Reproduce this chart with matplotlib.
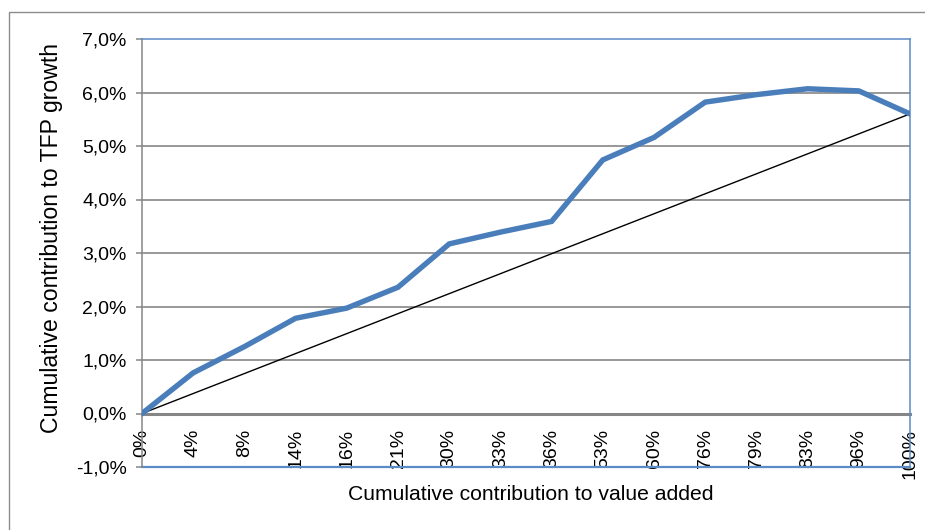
import matplotlib
matplotlib.use("Agg")
import matplotlib.pyplot as plt
from matplotlib.patches import Rectangle

# data
categories = ["0%", "4%", "8%", "14%", "16%", "21%", "30%", "33%", "36%",
              "53%", "60%", "76%", "79%", "83%", "96%", "100%"]
tfp_cumulative = [0.00, 0.76, 1.25, 1.78, 1.97, 2.36, 3.17, 3.39, 3.59,
                  4.74, 5.16, 5.82, 5.96, 6.07, 6.03, 5.60]
y_ticks = [-1, 0, 1, 2, 3, 4, 5, 6, 7]

BLUE = "#4A7EBB"
FRAME = "#5B8BC6"
GRAY = "#868686"
FONT = ["Liberation Sans", "DejaVu Sans"]

W, H = 925, 530
fig = plt.figure(figsize=(W / 100, H / 100), dpi=100)
fig.patch.set_facecolor("white")

left, right, top, bottom = 142, 910, 39, 467
ax = fig.add_axes([left / W, 1 - bottom / H, (right - left) / W, (bottom - top) / H])

x = list(range(len(categories)))
ax.plot(x, tfp_cumulative, color=BLUE, lw=3.9, solid_joinstyle="miter", zorder=4)
ax.plot([x[0], x[-1]], [tfp_cumulative[0], tfp_cumulative[-1]], color="black", lw=1.0, zorder=3)

ax.set_xlim(x[0], x[-1])
ax.set_ylim(y_ticks[0], y_ticks[-1])

# horizontal gridlines
for v in y_ticks[1:-1]:
    if v != 0:
        ax.axhline(v, color=GRAY, lw=1.2, zorder=1)

# frame
ax.spines["top"].set_color(FRAME)
ax.spines["right"].set_color(FRAME)
ax.spines["top"].set_linewidth(1.1)
ax.spines["right"].set_linewidth(1.1)
ax.spines["left"].set_color(GRAY)
ax.spines["left"].set_linewidth(1.1)
ax.spines["bottom"].set_position(("data", 0))
ax.spines["bottom"].set_color(GRAY)
ax.spines["bottom"].set_linewidth(2.2)
ax.spines["bottom"].set_zorder(2)
ax.axhline(y_ticks[0], color=FRAME, lw=1.6, clip_on=False, zorder=2)

ax.set_yticks(y_ticks)
ax.set_yticklabels([f"{v:.1f}%".replace(".", ",") for v in y_ticks], fontfamily=FONT, fontsize=14)
ax.tick_params(axis="y", length=4, width=1.1, color=GRAY, pad=7)

ax.set_xticks(x)
ax.set_xticklabels(categories, rotation=90, fontfamily=FONT, fontsize=14)
ax.tick_params(axis="x", length=0, pad=11)

ax.set_xlabel("Cumulative contribution to value added", fontfamily=FONT, fontsize=15.2)
ax.xaxis.set_label_coords(0.5065, -0.042)
ax.set_ylabel("Cumulative contribution to TFP growth", fontfamily=FONT, fontsize=16.6)
ax.yaxis.set_label_coords(-0.103, 0.535)

# outer chart border
fig.patches.append(Rectangle((9 / W, -0.05), 1.2, 1.05 - 11.5 / H, transform=fig.transFigure,
                             fill=False, edgecolor="#8C8C8C", lw=1.0))

fig.savefig("out.png", dpi=100)
